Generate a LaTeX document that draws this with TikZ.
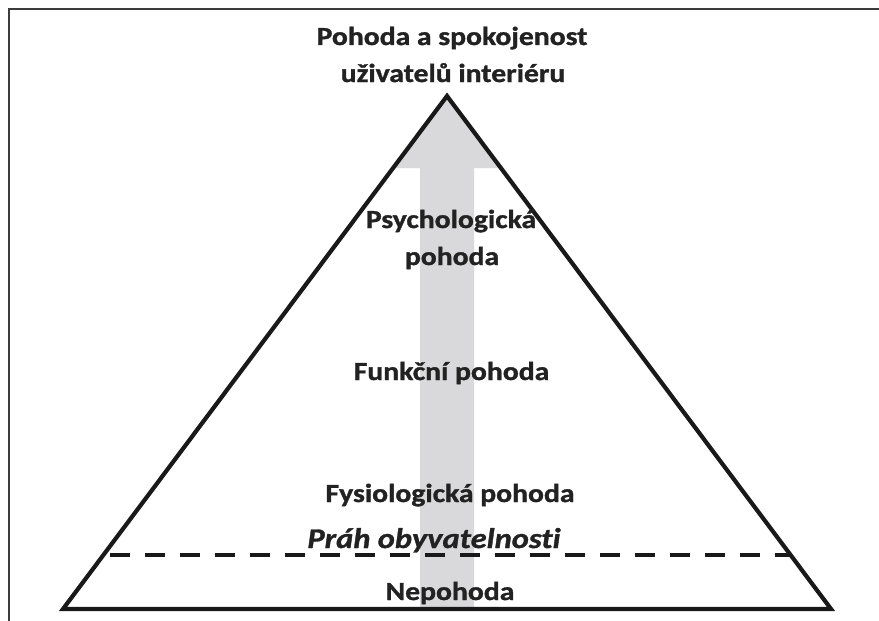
\documentclass[tikz,border=0pt]{standalone}
\usepackage{fontspec}
\setmainfont[FakeStretch=1.14, Ligatures={NoCommon}, BoldFeatures={FakeBold=1.2}, BoldItalicFeatures={FakeBold=1.2}]{Carlito}
\definecolor{arrowgray}{RGB}{217,217,219}
\definecolor{txt}{RGB}{34,34,34}
\definecolor{frame}{RGB}{60,60,60}
\tikzset{
  lbl/.style={anchor=base, inner sep=0pt, text=txt, font=\fontsize{26}{37}\selectfont\bfseries, align=center},
  tri/.style={draw=black!90, line width=4.2pt, miter limit=10},
  thresh/.style={draw=black!90, line width=4.2pt, dash pattern=on 20pt off 15pt}
}
\begin{document}
\begin{tikzpicture}[x=1pt,y=-1pt]
\useasboundingbox (0,0) rectangle (879,621);
% frame
\draw[frame, line width=1.8pt] (9,621) -- (9,9) -- (879,9);
% coordinates
\coordinate (apex) at (447,96);
\coordinate (bl) at (63,609);
\coordinate (br) at (831,609);
% gray arrow
\fill[arrowgray] (apex) -- (501,168) -- (474,168) -- (474,609) -- (420,609) -- (420,168) -- (393,168) -- cycle;
% threshold dashed line
\coordinate (tl) at (110,555);
\coordinate (tr) at (792,555);
\draw[thresh] (tl) -- (tr);
% pyramid
\draw[tri] (apex) -- (br) -- (bl) -- cycle;
% labels
\node[lbl] (t1) at (452,45) {Pohoda a spokojenost};
\node[lbl] (t2) at (453,82) {uživatelů interiéru};
\node[lbl] (p1) at (451,228) {Psychologická};
\node[lbl] (p2) at (452,265) {pohoda};
\node[lbl] (f) at (451.5,380) {Funkční pohoda};
\node[lbl] (fy) at (450,502) {Fysiologická pohoda};
\node[lbl, font=\fontsize{28.5}{37}\selectfont\bfseries\itshape] (pr) at (434,548) {Práh obyvatelnosti};
\node[lbl] (n) at (450,600) {Nepohoda};
\end{tikzpicture}
\end{document}
